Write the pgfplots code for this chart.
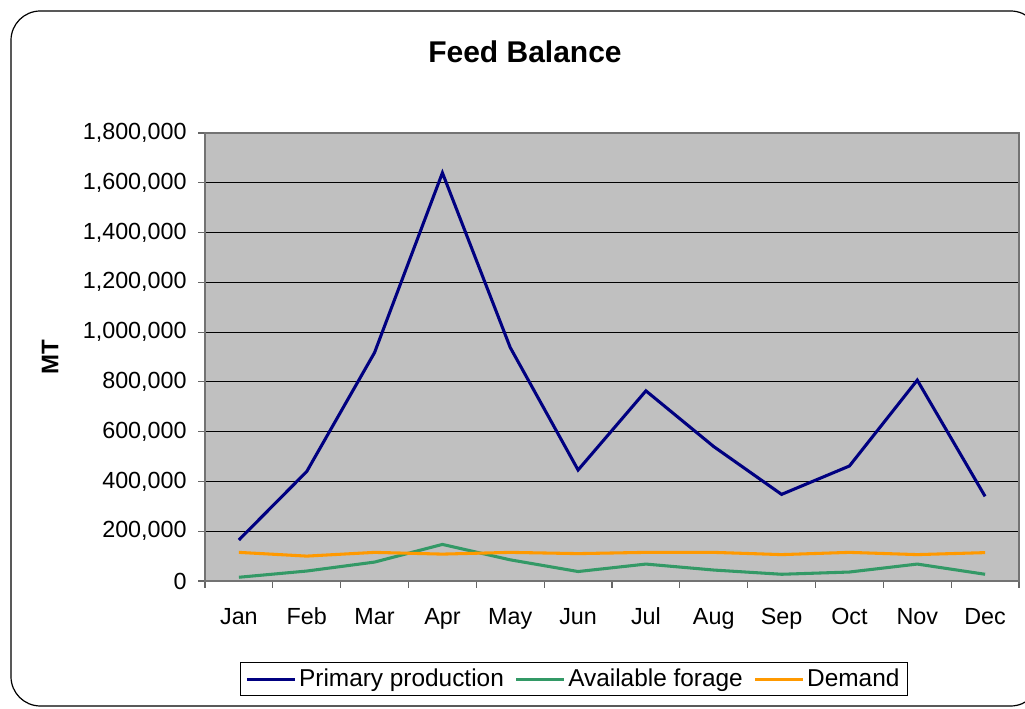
\documentclass[border=0pt]{standalone}
\usepackage{fontspec}
\setmainfont{Liberation Sans}
\usepackage{pgfplots}
\pgfplotsset{compat=1.18}

\definecolor{prodblue}{HTML}{000080}
\definecolor{foragegreen}{HTML}{339966}
\definecolor{demandorange}{HTML}{FF9900}
\definecolor{plotgray}{HTML}{C0C0C0}

% monthly feed balance, MT
\pgfplotstableread{
m prod forage demand
0 165000 15000 115000
1 440000 40000 100000
2 918000 76000 115000
3 1640000 147000 108000
4 938000 85000 115000
5 446000 38000 110000
6 764000 68000 115000
7 540000 44000 115000
8 348000 27000 106000
9 462000 36000 115000
10 807000 68000 106000
11 340000 27000 114000
}\feedtable

\begin{document}
\begin{tikzpicture}
\useasboundingbox (0,0) rectangle (768.75pt,531.75pt);
\draw[line width=0.9pt, rounded corners=22pt] (8.25pt,2.25pt) rectangle (780pt,523.5pt);
\node[font=\fontsize{22.5}{27}\selectfont\bfseries] at (393.75pt,492.75pt) {Feed Balance};
\node[font=\fontsize{18}{21}\selectfont\bfseries, rotate=90] at (37.5pt,264pt) {MT};

\begin{axis}[
    at={(153.75pt,96pt)}, anchor=south west,
    scale only axis,
    width=610.5pt, height=336pt,
    axis background/.style={fill=plotgray},
    axis line style={draw=black!55, line width=0.8pt},
    xmin=-0.5, xmax=11.5,
    ymin=0, ymax=1800000,
    xtick={0,...,11},
    xticklabels={Jan,Feb,Mar,Apr,May,Jun,Jul,Aug,Sep,Oct,Nov,Dec},
    minor xtick={-0.5,0.5,...,11.5},
    ytick={0,200000,400000,600000,800000,1000000,1200000,1400000,1600000,1800000},
    yticklabels={0,{200,000},{400,000},{600,000},{800,000},{1,000,000},{1,200,000},{1,400,000},{1,600,000},{1,800,000}},
    scaled y ticks=false,
    tick pos=left,
    tick align=outside,
    major tick length=5.25pt,
    minor tick length=5.25pt,
    x tick style={draw=none},
    minor x tick style={draw=black!60, line width=0.8pt},
    y tick style={draw=black!60, line width=0.8pt},
    ymajorgrids,
    major grid style={draw=black, line width=0.6pt},
    tick label style={font=\fontsize{17.5}{21}\selectfont},
    xticklabel style={anchor=north, text height=12.5pt, text depth=3.5pt, yshift=-11pt},
    yticklabel style={xshift=-5pt},
    legend columns=3,
    legend style={at={(0.453,-0.219)}, anchor=center, draw=black, line width=0.6pt,
        font=\fontsize{18.3}{22}\selectfont, inner xsep=4pt, inner ysep=3pt,
        /tikz/every even column/.append style={column sep=6pt}},
    legend image code/.code={\draw[#1] (0pt,0pt) -- (36pt,0pt);},
]
\addplot[prodblue, line width=2.3pt] table[x=m, y=prod] {\feedtable};
\addlegendentry{Primary production}
\addplot[foragegreen, line width=2.3pt] table[x=m, y=forage] {\feedtable};
\addlegendentry{Available forage}
\addplot[demandorange, line width=2.3pt] table[x=m, y=demand] {\feedtable};
\addlegendentry{Demand}
\end{axis}
\end{tikzpicture}
\end{document}
